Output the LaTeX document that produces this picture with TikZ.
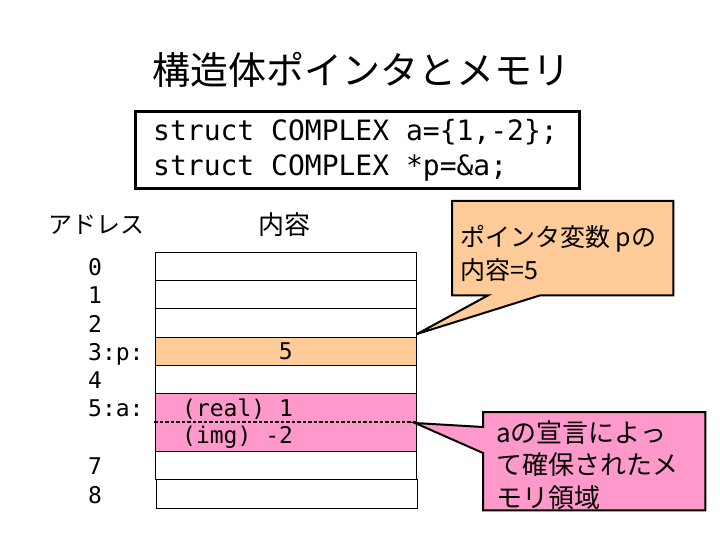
\documentclass[tikz,border=0pt]{standalone}
\usepackage{fontspec}
\newfontfamily\jp{Noto Sans CJK JP}
\newfontfamily\mono{DejaVu Sans Mono}
\definecolor{porange}{HTML}{FFCC99}
\definecolor{ppink}{HTML}{FF99CC}
\begin{document}
\begin{tikzpicture}[x=1pt,y=-1pt,
  cell/.style={draw=black, line width=0.8pt, minimum width=261pt, inner sep=0, anchor=north west, fill=white,
    font=\mono\fontsize{23}{23}\selectfont},
  addr/.style={anchor=base west, inner sep=0, font=\mono\fontsize{23}{23}\selectfont},
  celltxt/.style={anchor=base west, inner sep=0, font=\mono\fontsize{23}{23}\selectfont},
  codetxt/.style={anchor=base west, inner sep=0, font=\mono\fontsize{28}{28}\selectfont},
  head/.style={inner sep=0, font=\jp\fontsize{26}{26}\selectfont},
  calloutbox/.style={draw=none, fill=none, inner sep=0, anchor=north west},
  calloutline/.style={draw=black, line width=2pt, line join=miter},
  callouttxt/.style={inner sep=0, anchor=west, align=left},
  dashline/.style={draw=black, line width=2pt, dash pattern=on 3.5pt off 2pt}
]
\useasboundingbox (0,0) rectangle (720,540);
\fill[white] (0,0) rectangle (720,540);

% title
\node (title) [inner sep=0, font=\jp\fontsize{38}{38}\selectfont] at (361,70) {構造体ポインタとメモリ};

% code box
\node (code) [draw=black, line width=3pt, minimum width=444pt, minimum height=77pt, anchor=north west, inner sep=0] at (133.5,110) {};
\node (code1) [codetxt] at (153,141) {struct COMPLEX a=\{1,-2\};};
\node (code2) [codetxt] at (153,176) {struct COMPLEX *p=\&a;};

% headers
\node (haddr) [head, font=\jp\fontsize{24}{24}\selectfont] at (96,225) {アドレス};
\node (hcont) [head] at (284,225) {内容};

% memory cells
\node (m0) [cell, minimum height=28pt] at (155,252) {};
\node (m1) [cell, minimum height=28pt] at (155,280) {};
\node (m2) [cell, minimum height=29pt] at (155,308) {};
\node (m3) [cell, minimum height=28pt, fill=porange] at (155,337) {5};
\node (m4) [cell, minimum height=28pt] at (155,365) {};
\node (m5) [cell, minimum height=58pt, fill=ppink] at (155,393) {};
\node (m7) [cell, minimum height=28pt] at (155,451) {};
\node (m8) [cell, minimum height=29pt] at (156,479) {};
\draw[dashline] ([xshift=-1pt]m5.west) -- (m5.east);
\node (real) [celltxt] at (182,416) {(real) 1};
\node (img) [celltxt] at (182,443) {(img) -2};

% addresses
\node (a0) [addr] at (88,275) {0};
\node (a1) [addr] at (88,303) {1};
\node (a2) [addr] at (88,332) {2};
\node (a3) [addr] at (88,360) {3:p:};
\node (a4) [addr] at (88,388) {4};
\node (a5) [addr] at (88,416) {5:a:};
\node (a7) [addr] at (88,474) {7};
\node (a8) [addr] at (88,503) {8};

% callout 1
\node (c1) [calloutbox, minimum width=221pt, minimum height=94pt] at (452,201) {};
\coordinate (c1tip) at (417,334);
\path[calloutline, fill=porange] (c1.north west) -- (c1.north east) -- (c1.south east)
  -- ([xshift=88pt]c1.south west) -- (c1tip) -- ([xshift=36pt]c1.south west) -- (c1.south west) -- cycle;
\node (c1t) [callouttxt, font=\jp\fontsize{25}{33}\selectfont] at (460,253) {ポインタ変数 pの\\内容=5};

% callout 2
\node (c2) [calloutbox, minimum width=222pt, minimum height=98pt] at (483,412) {};
\coordinate (c2tip) at (415,423);
\path[calloutline, fill=ppink] (c2.north west) -- (c2.north east) -- (c2.south east) -- (c2.south west)
  -- ([yshift=-41pt]c2.north west) -- (c2tip) -- ([yshift=-15pt]c2.north west) -- cycle;
\node (c2t) [callouttxt, font=\jp\fontsize{26}{32.5}\selectfont] at (496,465) {aの宣言によっ\\て確保されたメ\\モリ領域};
\end{tikzpicture}
\end{document}
